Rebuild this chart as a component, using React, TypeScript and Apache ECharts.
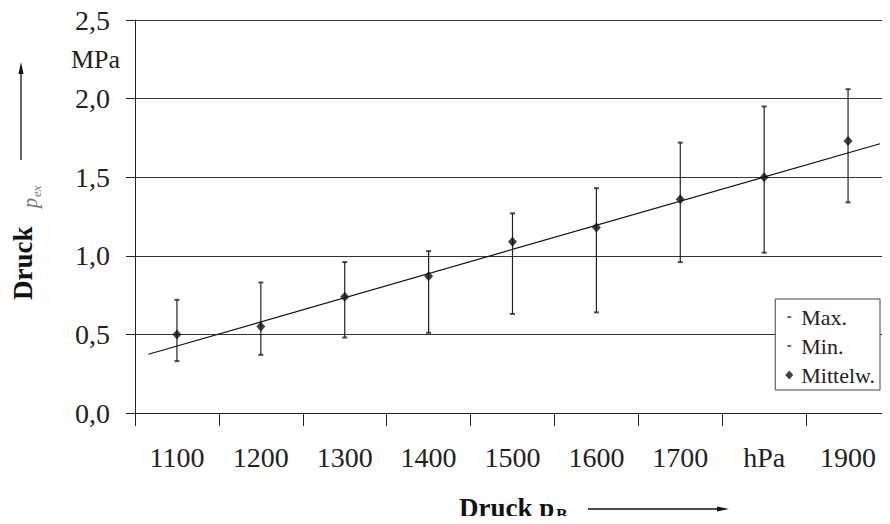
import React, { useEffect, useRef } from "react";
import * as echarts from "echarts";

const categories = ["1100", "1200", "1300", "1400", "1500", "1600", "1700", "hPa", "1900"];
const meanValues = [0.5, 0.55, 0.74, 0.87, 1.09, 1.18, 1.36, 1.5, 1.73];
const maxValues = [0.72, 0.83, 0.96, 1.03, 1.27, 1.43, 1.72, 1.95, 2.06];
const minValues = [0.33, 0.37, 0.48, 0.51, 0.63, 0.64, 0.96, 1.02, 1.34];
const trendX = [-0.34, 8.38];
const trendY = [0.374, 1.713];
const yMin = 0;
const yMax = 2.5;
const yInterval = 0.5;
const yUnit = "MPa";
const yUnitAt = 2.25;
const legendNames = ["Max.", "Min.", "Mittelw."];

const FONT = '"Liberation Serif", "Times New Roman", serif';
const INK = "#222";

export default function App() {
  const ref = useRef<HTMLDivElement>(null);

  useEffect(() => {
    if (!ref.current) return;
    const chart = echarts.init(ref.current, undefined, { renderer: "svg" });
    const dashIcon = "path://M0,0M2,3.7L6,3.7L6,5.3L2,5.3ZM8,9";

    const option: any = {
      animation: false,
      backgroundColor: "#fff",
      textStyle: { fontFamily: FONT },
      grid: { left: 135, top: 20, height: 393, width: 760 },
      legend: {
        orient: "vertical",
        right: 10,
        top: 299,
        backgroundColor: "#fff",
        borderColor: "#444",
        borderWidth: 1,
        borderRadius: 0,
        padding: [7, 5, 4, 10],
        itemGap: 7,
        itemWidth: 8,
        itemHeight: 9,
        selectedMode: false,
        textStyle: { fontFamily: FONT, fontSize: 22, color: INK, padding: [0, 0, 0, 3] },
        data: [
          { name: legendNames[0], icon: dashIcon },
          { name: legendNames[1], icon: dashIcon },
          { name: legendNames[2], icon: "diamond" },
        ],
      },
      xAxis: [
        {
          type: "category",
          data: categories,
          boundaryGap: true,
          axisLine: { onZero: false, lineStyle: { color: INK, width: 1 } },
          axisTick: { show: true, length: 13, inside: false, lineStyle: { color: INK, width: 1 } },
          axisLabel: { fontFamily: FONT, fontSize: 28, color: INK, margin: 30 },
          splitLine: { show: false },
        },
        {
          type: "value",
          min: -0.5,
          max: 8.5,
          show: false,
        },
      ],
      yAxis: [
        {
          type: "value",
          min: yMin,
          max: yMax,
          interval: yInterval,
          axisLine: { show: true, onZero: false, lineStyle: { color: INK, width: 1 } },
          axisTick: { show: true, length: 9, lineStyle: { color: INK, width: 1 } },
          axisLabel: {
            fontFamily: FONT,
            fontSize: 28,
            color: INK,
            margin: 25,
            formatter: (v: number) => v.toFixed(1).replace(".", ","),
          },
          splitLine: { show: true, lineStyle: { color: "#333", width: 1 } },
        },
        {
          type: "value",
          min: yMin,
          max: yMax,
          interval: 0.25,
          position: "left",
          axisLine: { show: false, onZero: false },
          axisTick: { show: false },
          splitLine: { show: false },
          axisLabel: {
            fontFamily: FONT,
            fontSize: 26,
            color: INK,
            margin: 15,
            formatter: (v: number) => (Math.abs(v - yUnitAt) < 1e-6 ? yUnit : ""),
          },
        },
      ],
      series: [
        {
          name: "range",
          type: "custom",
          xAxisIndex: 0,
          yAxisIndex: 0,
          data: categories.map((_, i) => [i, minValues[i], maxValues[i]]),
          encode: { x: 0, y: [1, 2] },
          renderItem: (params: any, api: any) => {
            const lo = api.coord([api.value(0), api.value(1)]);
            const hi = api.coord([api.value(0), api.value(2)]);
            return {
              type: "line",
              shape: { x1: lo[0], y1: lo[1], x2: hi[0], y2: hi[1] },
              style: { stroke: INK, lineWidth: 1.2 },
            };
          },
          z: 2,
        },
        {
          name: "trend",
          type: "line",
          xAxisIndex: 1,
          yAxisIndex: 0,
          data: trendX.map((x, i) => [x, trendY[i]]),
          symbol: "none",
          lineStyle: { color: "#111", width: 1.2 },
          z: 3,
        },
        {
          name: legendNames[0],
          type: "scatter",
          data: maxValues,
          symbol: "rect",
          symbolSize: [5, 2],
          itemStyle: { color: INK },
          z: 4,
        },
        {
          name: legendNames[1],
          type: "scatter",
          data: minValues,
          symbol: "rect",
          symbolSize: [5, 2],
          itemStyle: { color: INK },
          z: 4,
        },
        {
          name: legendNames[2],
          type: "scatter",
          data: meanValues,
          symbol: "diamond",
          symbolSize: [9, 10],
          itemStyle: { color: "#111" },
          z: 5,
        },
      ],
      graphic: [
        // y-axis title
        {
          type: "text",
          x: 23,
          y: 300,
          rotation: Math.PI / 2,
          style: {
            text: "Druck",
            font: `bold 27px ${FONT}`,
            fill: "#111",
            align: "left",
            verticalAlign: "middle",
          },
        },
        {
          type: "text",
          x: 30,
          y: 208,
          rotation: Math.PI / 2,
          style: {
            text: "p",
            font: `italic 20px ${FONT}`,
            fill: "#777",
            align: "left",
            verticalAlign: "middle",
          },
        },
        {
          type: "text",
          x: 36,
          y: 197,
          rotation: Math.PI / 2,
          style: {
            text: "ex",
            font: `italic 13px ${FONT}`,
            fill: "#777",
            align: "left",
            verticalAlign: "middle",
          },
        },
        {
          type: "line",
          shape: { x1: 21, y1: 160, x2: 21, y2: 72 },
          style: { stroke: "#111", lineWidth: 1.3 },
        },
        {
          type: "polygon",
          shape: { points: [[21, 62], [18.5, 74], [23.5, 74]] },
          style: { fill: "#111" },
        },
        // x-axis title
        {
          type: "text",
          x: 459,
          y: 508,
          style: {
            text: "Druck p",
            font: `bold 27px ${FONT}`,
            fill: "#111",
            align: "left",
            verticalAlign: "middle",
          },
        },
        {
          type: "text",
          x: 556,
          y: 514,
          style: {
            text: "B",
            font: `bold 17px ${FONT}`,
            fill: "#111",
            align: "left",
            verticalAlign: "middle",
          },
        },
        {
          type: "line",
          shape: { x1: 588, y1: 509, x2: 718, y2: 509 },
          style: { stroke: "#111", lineWidth: 1.3 },
        },
        {
          type: "polygon",
          shape: { points: [[729, 509], [717, 506.5], [717, 511.5]] },
          style: { fill: "#111" },
        },
      ],
    };

    chart.setOption(option);
    return () => chart.dispose();
  }, []);

  return <div ref={ref} style={{ width: 890, height: 524, margin: -8 }} />;
}
